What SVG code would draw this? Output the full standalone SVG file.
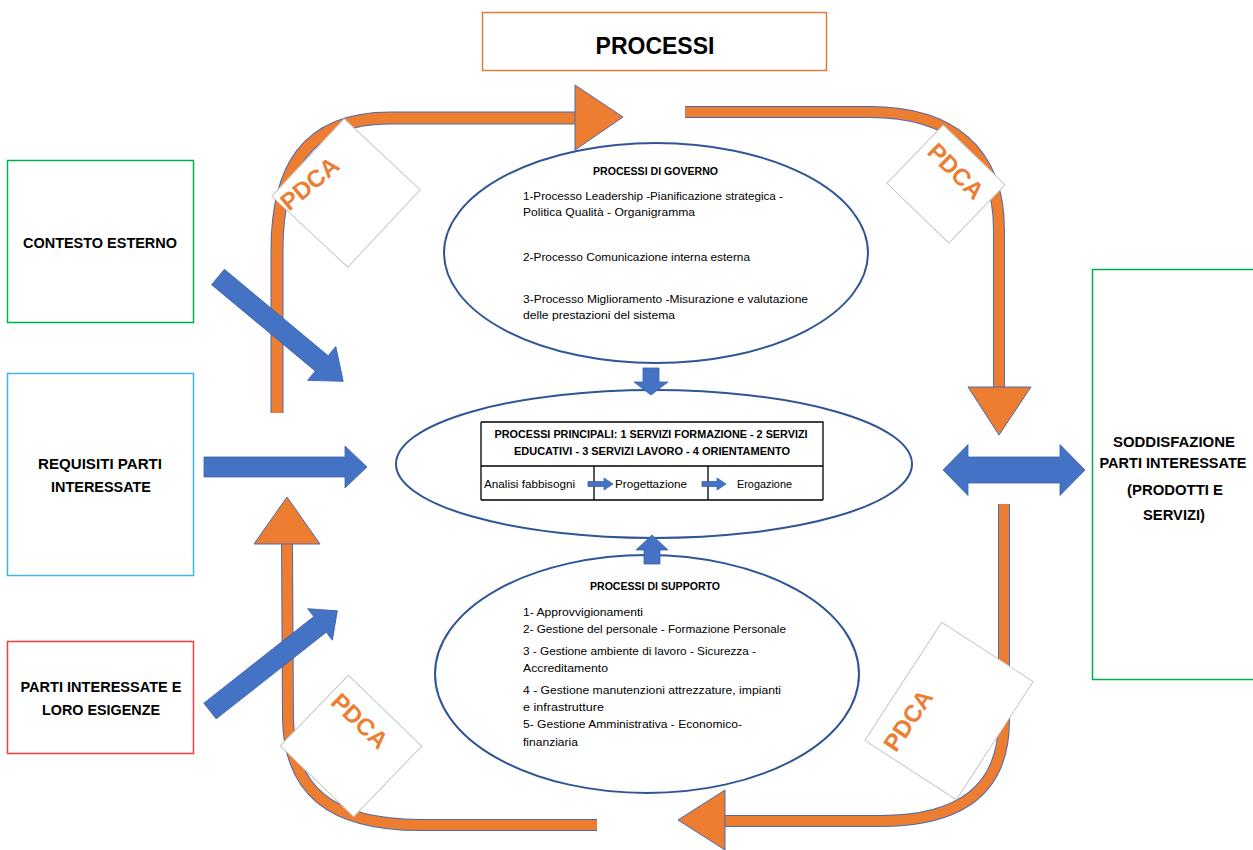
<svg xmlns="http://www.w3.org/2000/svg" width="1253" height="850" viewBox="0 0 1253 850">
<style>
text{font-family:"Liberation Sans",Arial,sans-serif;fill:#000}
.lbl{font-size:14px;font-weight:bold;text-anchor:middle}
.et{font-size:10.5px}
.eb{font-size:10.5px;font-weight:bold}
.ell{fill:#fff;stroke:#2F5597;stroke-width:2}
.shaftO{fill:none;stroke:#4A6AAE;stroke-linejoin:round}
.shaftI{fill:none;stroke:#ED7D31}
.headO{fill:#ED7D31;stroke:#4A6AAE;stroke-width:1}
.blue{fill:#4472C4;stroke:#3A62AA;stroke-width:0.8}
.card{fill:#fff;stroke:#C8C8C8;stroke-width:1}
.pdca{font-size:24px;font-weight:bold;fill:#ED7D31;text-anchor:middle}
</style>

<g id="title">
<rect x="482.5" y="12.5" width="344" height="58" fill="#fff" stroke="#E07B39" stroke-width="1.5"/>
<text x="655" y="54" style="font-size:23px;font-weight:bold" text-anchor="middle">PROCESSI</text>
</g>

<g id="contesto">
<rect x="7.5" y="160.5" width="186" height="162" fill="#fff" stroke="#00B050" stroke-width="1.5"/>
<text class="lbl" x="100" y="248" textLength="154" lengthAdjust="spacingAndGlyphs">CONTESTO ESTERNO</text>
</g>
<g id="requisiti">
<rect x="7.5" y="373.5" width="186" height="202" fill="#fff" stroke="#3DB5EE" stroke-width="1.5"/>
<text class="lbl" x="100" y="469" textLength="124" lengthAdjust="spacingAndGlyphs">REQUISITI PARTI</text>
<text class="lbl" x="101" y="492" textLength="100" lengthAdjust="spacingAndGlyphs">INTERESSATE</text>
</g>
<g id="parti">
<rect x="7.5" y="641.5" width="186" height="112" fill="#fff" stroke="#FF3B3B" stroke-width="1.5"/>
<text class="lbl" x="101" y="692" textLength="161" lengthAdjust="spacingAndGlyphs">PARTI INTERESSATE E</text>
<text class="lbl" x="101" y="715" textLength="118" lengthAdjust="spacingAndGlyphs">LORO ESIGENZE</text>
</g>
<g id="soddisfazione">
<rect x="1092.5" y="269.5" width="166" height="410" fill="#fff" stroke="#00B050" stroke-width="1.5"/>
<text class="lbl" x="1174" y="447" textLength="122" lengthAdjust="spacingAndGlyphs">SODDISFAZIONE</text>
<text class="lbl" x="1173" y="468" textLength="147" lengthAdjust="spacingAndGlyphs">PARTI INTERESSATE</text>
<text class="lbl" x="1175" y="495" textLength="96" lengthAdjust="spacingAndGlyphs">(PRODOTTI E</text>
<text class="lbl" x="1174" y="520" textLength="62" lengthAdjust="spacingAndGlyphs">SERVIZI)</text>
</g>

<g id="connectors">
<!-- orange PDCA cycle -->
<path class="shaftO" stroke-width="13" d="M277,413 L277,250 C277,170 305,118 390,118 L576,118"/>
<path class="shaftI" stroke-width="11" d="M277,413 L277,250 C277,170 305,118 390,118 L576,118"/>
<polygon class="headO" points="575,85 623,117 575,150"/>

<path class="shaftO" stroke-width="12" d="M685,112 L870,112 C950,112 999,150 999,230 L999,388"/>
<path class="shaftI" stroke-width="10" d="M685,112 L870,112 C950,112 999,150 999,230 L999,388"/>
<polygon class="headO" points="968,387 1031,387 999,435"/>

<path class="shaftO" stroke-width="12" d="M1004,504 L1004,720 C1004,790 960,821 880,821 L724,821"/>
<path class="shaftI" stroke-width="10" d="M1004,504 L1004,720 C1004,790 960,821 880,821 L724,821"/>
<polygon class="headO" points="725,790 678,820 725,850"/>

<path class="shaftO" stroke-width="12" d="M597,825 L420,825 C330,825 290,790 288,720 L287,543"/>
<path class="shaftI" stroke-width="10" d="M597,825 L420,825 C330,825 290,790 288,720 L287,543"/>
<polygon class="headO" points="254,544 287,497 320,544"/>

<!-- blue input arrows -->
<polygon class="blue" transform="translate(218,277) rotate(39.8)" points="0,-10 135,-10 135,-22 163,0 135,22 135,10 0,10"/>
<polygon class="blue" transform="translate(204,467)" points="0,-10 141,-10 141,-21 163,0 141,21 141,10 0,10"/>
<polygon class="blue" transform="translate(210,711) rotate(-38.2)" points="0,-10 140,-10 140,-20 162,0 140,20 140,10 0,10"/>
<polygon class="blue" points="943,470 968,444.5 968,457 1060,457 1060,444.5 1085,470 1060,495.5 1060,483 968,483 968,495.5"/>
</g>

<g id="governo">
<ellipse class="ell" cx="656" cy="253" rx="212" ry="110"/>
<text class="eb" x="593" y="175" textLength="125" lengthAdjust="spacingAndGlyphs">PROCESSI DI GOVERNO</text>
<text class="et" x="523" y="200" textLength="260" lengthAdjust="spacingAndGlyphs">1-Processo Leadership -Pianificazione strategica -</text>
<text class="et" x="523" y="216" textLength="172" lengthAdjust="spacingAndGlyphs">Politica Qualità - Organigramma</text>
<text class="et" x="523" y="261" textLength="227" lengthAdjust="spacingAndGlyphs">2-Processo Comunicazione interna esterna</text>
<text class="et" x="523" y="303" textLength="285" lengthAdjust="spacingAndGlyphs">3-Processo Miglioramento -Misurazione e valutazione</text>
<text class="et" x="523" y="319" textLength="152" lengthAdjust="spacingAndGlyphs">delle prestazioni del sistema</text>
</g>

<g id="principali">
<ellipse class="ell" cx="654" cy="464" rx="258" ry="74"/>
<rect x="481" y="422" width="342" height="78" fill="#fff" stroke="none"/>
<path d="M481,422 H823 V500 M481,500 H823 M481,422 V500 M481,466 H823 M594,466 V500 M708,466 V500" fill="none" stroke="#000" stroke-width="1.3"/>
<text class="eb" x="651" y="438" text-anchor="middle" textLength="313" lengthAdjust="spacingAndGlyphs">PROCESSI PRINCIPALI: 1 SERVIZI FORMAZIONE -  2 SERVIZI</text>
<text class="eb" x="652" y="455" text-anchor="middle" textLength="276" lengthAdjust="spacingAndGlyphs">EDUCATIVI - 3 SERVIZI LAVORO - 4 ORIENTAMENTO</text>
<text class="et" x="484" y="488" textLength="91" lengthAdjust="spacingAndGlyphs">Analisi fabbisogni</text>
<text class="et" x="615" y="488" textLength="72" lengthAdjust="spacingAndGlyphs">Progettazione</text>
<text class="et" x="737" y="488" textLength="55" lengthAdjust="spacingAndGlyphs">Erogazione</text>
<polygon class="blue" points="588,481.5 604,481.5 604,478 613,484 604,490 604,486.5 588,486.5"/>
<polygon class="blue" points="702,481.5 717,481.5 717,478 726,484 717,490 717,486.5 702,486.5"/>
</g>

<g id="supporto">
<ellipse class="ell" cx="647" cy="674" rx="212" ry="119"/>
<text class="eb" x="590" y="590" textLength="130" lengthAdjust="spacingAndGlyphs">PROCESSI DI SUPPORTO</text>
<text class="et" x="523" y="616" textLength="120" lengthAdjust="spacingAndGlyphs">1- Approvvigionamenti</text>
<text class="et" x="523" y="633" textLength="263" lengthAdjust="spacingAndGlyphs">2- Gestione del personale - Formazione Personale</text>
<text class="et" x="523" y="655" textLength="233" lengthAdjust="spacingAndGlyphs">3 - Gestione ambiente di lavoro - Sicurezza -</text>
<text class="et" x="523" y="672" textLength="85" lengthAdjust="spacingAndGlyphs">Accreditamento</text>
<text class="et" x="523" y="694" textLength="258" lengthAdjust="spacingAndGlyphs">4 - Gestione manutenzioni attrezzature, impianti</text>
<text class="et" x="523" y="711" textLength="81" lengthAdjust="spacingAndGlyphs">e infrastrutture</text>
<text class="et" x="523" y="728" textLength="219" lengthAdjust="spacingAndGlyphs">5- Gestione Amministrativa - Economico-</text>
<text class="et" x="523" y="746" textLength="55" lengthAdjust="spacingAndGlyphs">finanziaria</text>
</g>

<g id="link-arrows">
<polygon class="blue" points="643,368 659,368 659,382 668,382 651,395 634,382 643,382"/>
<polygon class="blue" points="652,535 668,550 660,550 660,564 644,564 644,550 636,550"/>
</g>

<g id="pdca-tl">
<rect class="card" x="-52" y="-53" width="104" height="106" transform="translate(346,193) rotate(43)"/>
<text class="pdca" transform="translate(315,190) rotate(-40)">PDCA</text>
</g>
<g id="pdca-tr">
<rect class="card" x="-43" y="-40.5" width="86" height="81" transform="translate(946,184) rotate(44)"/>
<text class="pdca" transform="translate(950,177) rotate(45)">PDCA</text>
</g>
<g id="pdca-bl">
<rect class="card" x="-51" y="-49" width="102" height="98" transform="translate(351,746) rotate(44)"/>
<text class="pdca" transform="translate(354,727) rotate(44)">PDCA</text>
</g>
<g id="pdca-br">
<rect class="card" x="-54.5" y="-70.5" width="109" height="141" transform="translate(949,711) rotate(33)"/>
<text class="pdca" transform="translate(915,725) rotate(-56)">PDCA</text>
</g>
</svg>
